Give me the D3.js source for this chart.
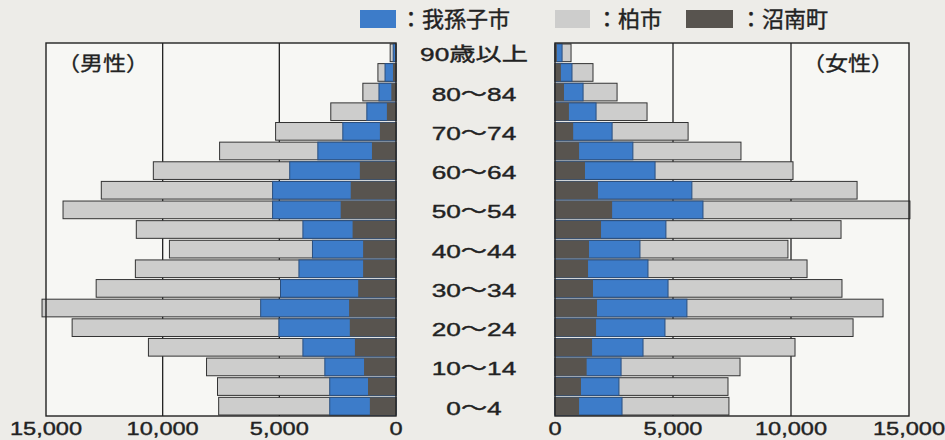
<!DOCTYPE html>
<html><head><meta charset="utf-8">
<script src="https://cdn.jsdelivr.net/npm/d3@7"></script>
<style>body{margin:0;background:#edece8;} svg{display:block}</style>
</head><body><svg id="c" width="945" height="440"></svg>
<script>
// age groups, youngest first
const ageGroups = ["0〜4","5〜9","10〜14","15〜19","20〜24","25〜29","30〜34","35〜39","40〜44","45〜49","50〜54","55〜59","60〜64","65〜69","70〜74","75〜79","80〜84","85〜89","90歳以上"];
// male (left)
const abikoMale   = [2840, 2840, 3050, 3990, 5020, 5800, 4950, 4160, 3580, 3990, 5290, 5290, 4555, 3350, 2280, 1250, 730, 470, 120];
const kashiwaMale = [7600, 7650, 8120, 10610, 13880, 15170, 12850, 11170, 9710, 11130, 14270, 12630, 10400, 7560, 5160, 2795, 1420, 775, 250];
const shonanMale  = [1120, 1200, 1370, 1760, 1980, 2010, 1620, 1410, 1410, 1860, 2370, 1940, 1550, 1030, 690, 390, 200, 130, 40];
// female (right)
const abikoFemale   = [2840, 2710, 2800, 3730, 4660, 5590, 4790, 3940, 3600, 4700, 6270, 5800, 4240, 3300, 2420, 1740, 1190, 720, 300];
const kashiwaFemale = [7370, 7330, 7840, 10170, 12630, 13900, 12160, 10680, 9870, 12120, 15040, 12800, 10085, 7880, 5640, 3900, 2630, 1610, 680];
const shonanFemale  = [1020, 1100, 1340, 1570, 1740, 1780, 1610, 1400, 1440, 1950, 2420, 1820, 1270, 1020, 770, 590, 380, 250, 80];
const xTicks = [0, 5000, 10000, 15000];
const gridTicks = [5000, 10000];
const legendLabels = ["：我孫子市", "：柏市", "：沼南町"];
const panelLabels = ["（男性）", "（女性）"];

const COL = {abiko: "#3d7cc9", kashiwa: "#cdcdcc", shonan: "#58544f"};

const svg = d3.select("#c");
const y = d3.scaleBand().domain(ageGroups).range([416, 43]).paddingInner(0.1).paddingOuter(0.05);
const xL = d3.scaleLinear().domain([0, 15000]).range([396, 46]);
const xR = d3.scaleLinear().domain([0, 15000]).range([555, 909]);

function stretch(sel, factor) {
  sel.each(function () {
    const w = this.getComputedTextLength();
    d3.select(this).attr("textLength", w * factor).attr("lengthAdjust", "spacingAndGlyphs");
  });
}

// panels
[xL, xR].forEach(x => {
  const [a, b] = [x(0), x(15000)].sort((p, q) => p - q);
  svg.append("rect").attr("x", a).attr("y", 43).attr("width", b - a).attr("height", 373)
    .attr("fill", "#f7f7f4");
  svg.append("g").selectAll("line").data(gridTicks).join("line")
    .attr("x1", d => x(d)).attr("x2", d => x(d)).attr("y1", 43).attr("y2", 416)
    .attr("stroke", "#222").attr("stroke-width", 1.3);
});

function drawSide(x, values, color, stroke) {
  svg.append("g").selectAll("rect").data(values).join("rect")
    .attr("x", d => Math.min(x(0), x(d)))
    .attr("width", d => Math.abs(x(d) - x(0)))
    .attr("y", (d, i) => y(ageGroups[i]))
    .attr("height", y.bandwidth())
    .attr("fill", color)
    .attr("stroke", stroke || "none")
    .attr("stroke-width", stroke ? 1 : 0);
}
drawSide(xL, kashiwaMale, COL.kashiwa, "#333");
drawSide(xL, abikoMale, COL.abiko, "#2b4f7e");
drawSide(xL, shonanMale, COL.shonan);
drawSide(xR, kashiwaFemale, COL.kashiwa, "#333");
drawSide(xR, abikoFemale, COL.abiko, "#2b4f7e");
drawSide(xR, shonanFemale, COL.shonan);

// panel frames
[xL, xR].forEach(x => {
  const [a, b] = [x(0), x(15000)].sort((p, q) => p - q);
  svg.append("rect").attr("x", a).attr("y", 43).attr("width", b - a).attr("height", 373)
    .attr("fill", "none").attr("stroke", "#222").attr("stroke-width", 1.4);
});

const FONT = "'Liberation Sans', Arial, 'Noto Sans CJK JP', sans-serif";
const CJK = "'Noto Sans CJK JP', sans-serif";

// age labels
svg.append("g").selectAll("text")
  .data(ageGroups.filter((d, i) => i % 2 === 0))
  .join("text")
  .attr("x", 474).attr("y", d => y(d) + y.bandwidth() / 2 + 2)
  .attr("text-anchor", "middle").attr("dominant-baseline", "central")
  .attr("font-family", FONT).attr("font-size", 19).attr("fill", "#222")
  .attr("stroke", "#222").attr("stroke-width", 0.4)
  .text(d => d)
  .call(stretch, 1.38);

// x tick labels
[xL, xR].forEach(x => {
  svg.append("g").selectAll("text").data(xTicks).join("text")
    .attr("x", d => x(d)).attr("y", 435)
    .attr("text-anchor", "middle")
    .attr("font-family", FONT).attr("font-size", 19).attr("fill", "#222")
    .attr("stroke", "#222").attr("stroke-width", 0.4)
    .text(d => d3.format(",")(d))
    .call(stretch, 1.24);
});

// panel labels
svg.append("g").selectAll("text").data(panelLabels).join("text")
  .attr("x", (d, i) => i === 0 ? 57 : 802).attr("y", 71)
  .attr("font-family", CJK).attr("font-size", 20).attr("fill", "#222")
  .attr("stroke", "#222").attr("stroke-width", 0.3)
  .text(d => d)
  .call(stretch, 1.15);

// legend
const legendBoxes = [[360, 396, COL.abiko], [555, 590, COL.kashiwa], [686, 733, COL.shonan]];
const legendTextX = [400, 596, 740];
svg.append("g").selectAll("rect").data(legendBoxes).join("rect")
  .attr("x", d => d[0]).attr("width", d => d[1] - d[0]).attr("y", 10).attr("height", 18)
  .attr("fill", d => d[2]);
svg.append("g").selectAll("text").data(legendLabels).join("text")
  .attr("x", (d, i) => legendTextX[i]).attr("y", 27)
  .attr("font-family", CJK).attr("font-size", 22).attr("fill", "#222")
  .attr("stroke", "#222").attr("stroke-width", 0.4)
  .text(d => d);
</script></body></html>
